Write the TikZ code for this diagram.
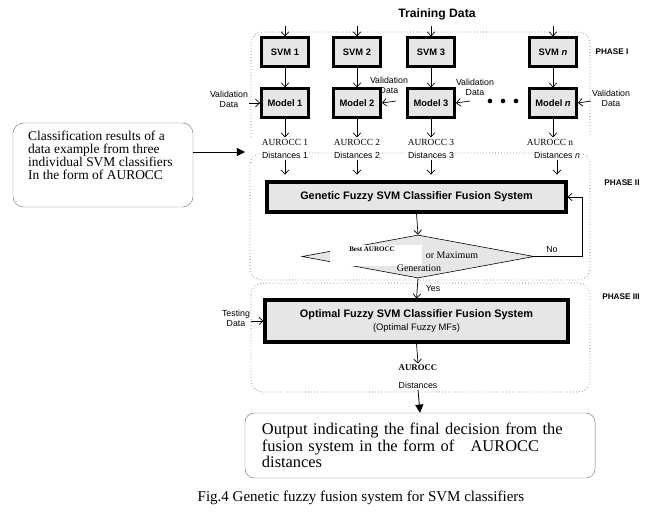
\documentclass[tikz,border=0pt]{standalone}
\usepackage{fontspec}
\setmainfont{Liberation Serif}
\setsansfont{Liberation Sans}
\usepackage{tikz}
\usetikzlibrary{shapes.geometric,arrows.meta}
\definecolor{boxgray}{RGB}{230,230,230}
\definecolor{framegray}{RGB}{120,120,120}

\tikzset{
    svmbox/.style={draw, line width=2.4pt, fill=boxgray, minimum width=1.41cm, minimum height=0.85cm,
        inner sep=1pt, font=\sffamily\bfseries\fontsize{8}{9}\selectfont},
    bigbox/.style={draw, line width=2.6pt, fill=boxgray, align=center,
        font=\sffamily\bfseries\fontsize{9.3}{10.5}\selectfont},
    decision/.style={diamond, draw, fill=boxgray, line width=0.5pt, inner sep=0pt,
        minimum width=6.96cm, minimum height=1.29cm},
    phase/.style={draw=framegray, dotted, line width=0.6pt, rounded corners=10pt},
    arr/.style={-{Straight Barb[length=3.5pt,width=6.5pt]}, line width=0.6pt},
    farr/.style={-{Triangle[length=7pt,width=7pt]}, line width=0.7pt},
    lbl/.style={font=\sffamily\fontsize{7.5}{8.5}\selectfont, align=center, inner sep=1pt},
    aurocc/.style={font=\fontsize{8}{9}\selectfont, inner sep=1pt, fill=white},
    phaselbl/.style={font=\sffamily\bfseries\fontsize{7}{8}\selectfont},
    dectext/.style={font=\fontsize{8.5}{9}\selectfont, inner sep=0.5pt}
}

\begin{document}
\begin{tikzpicture}[x=0.03cm, y=-0.03cm]
    \useasboundingbox (0,0) rectangle (650,529);

    % phase frames
    \draw[phase] (251,137) -- (251,32) -- (590,32) -- (590,137);
    \draw[phase] (250,153) rectangle (590,280);
    \draw[phase] (251,283) rectangle (590,392);
    \node[phaselbl] (ph1) at (612,52) {PHASE I};
    \node[phaselbl] (ph2) at (622,183) {PHASE II};
    \node[phaselbl] (ph3) at (621,297) {PHASE III};

    % phase I: svm columns
    \node[font=\sffamily\bfseries\fontsize{10.4}{12}\selectfont] (train) at (437,14) {Training Data};
    \foreach \i/\x/\lab in {1/285/1, 2/357/2, 3/431/3, n/553/\textit{n}} {
        \coordinate (in\i) at (\x,26);
        \node[svmbox] (svm\i) at (\x,52) {SVM \lab};
        \node[svmbox] (model\i) at (\x,103) {Model \lab};
        \draw[arr] (in\i) -- (svm\i);
        \draw[arr] (svm\i) -- (model\i);
    }

    % validation data
    \node[lbl] (val1) at (229,99) {Validation\\Data};
    \node[lbl] (val2) at (389,85) {Validation\\Data};
    \node[lbl] (val3) at (475,87) {Validation\\Data};
    \node[lbl] (valn) at (611,98) {Validation\\Data};
    \coordinate (v2) at (396,101);
    \coordinate (v3) at (470,101);
    \coordinate (vn) at (591,101);
    \draw[arr] (val1.east |- model1.west) -- (model1.west);
    \draw[arr] (v2) -- (model2.east);
    \draw[arr] (v3) -- (model3.east);
    \draw[arr] (vn) -- (modeln.east);
    \foreach \x in {490,503,516} \fill (\x,101) circle (2pt);

    % phase II
    \node[bigbox, minimum width=8.97cm, minimum height=0.9cm] (gen) at (416.5,197)
        {Genetic Fuzzy SVM Classifier Fusion System};
    \foreach \i/\x/\dx/\lab/\dlab in {1/285/285/1/1, 2/357/357/2/2, 3/431/431/3/3, n/550/557/n/\textit{n}} {
        \node[aurocc] (au\i) at (\x,142) {AUROCC \lab};
        \node[lbl, fill=white] (dist\i) at (\dx,155) {Distances \dlab};
        \draw[arr] (model\i.south) -- (model\i.south |- au\i.north);
        \draw[arr, shorten >=5pt] (dist\i.south) -- (dist\i.south |- gen.north);
    }

    \node[decision] (dec) at (418,256.5) {};
    \fill[white] (330,245) rectangle (422,266);
    \node[dectext, font=\bfseries\fontsize{6}{7}\selectfont] (best) at (372,249) {Best AUROCC};
    \node[dectext] (ormax) at (452,255) {or Maximum};
    \node[dectext] (gener) at (419,268) {Generation};
    \draw[arr] (gen.south) -- (dec.north);

    \coordinate (noturn) at (582,256.5);
    \draw[arr] (dec.east) -- (noturn) |- (gen.east);
    \node[lbl] (no) at (552,250) {No};

    % phase III
    \node[bigbox, minimum width=9.09cm, minimum height=1.26cm] (opt) at (416.5,321)
        {Optimal Fuzzy SVM Classifier Fusion System\\{\mdseries\fontsize{8}{9}\selectfont(Optimal Fuzzy MFs)}};
    \draw[arr] (dec.south) -- (opt.north);
    \node[lbl] (yes) at (433,289) {Yes};

    \node[lbl] (test) at (236,318) {Testing\\Data};
    \draw[arr] (test.east |- opt.west) -- (opt.west);

    \node[aurocc, font=\bfseries\fontsize{7.5}{9}\selectfont] (auout) at (418,368) {AUROCC};
    \node[lbl] (distout) at (418,385) {Distances};
    \draw[arr] (opt.south) -- (auout.north);

    % input and output boxes
    \node[draw=framegray, rounded corners=9pt, minimum width=5.4cm, minimum height=2.52cm] (clsbox) at (103,165) {};
    \node[anchor=north west, align=left, inner sep=0pt, font=\fontsize{11.5}{10.9}\selectfont] (clstext) at (28,131)
        {Classification results of a\\data example from three\\individual SVM classifiers\\In the form of AUROCC};
    \coordinate (clsin) at (245,152);
    \draw[farr] (clsbox.east |- clsin) -- (clsin);

    \node[draw=framegray, rounded corners=8pt, minimum width=10.5cm, minimum height=1.95cm,
        text width=9.48cm, align=left, font=\fontsize{14}{14.1}\selectfont] (outbox) at (420,445.5)
        {Output indicating the final decision from the\\fusion system in the form of \ \ AUROCC\\distances};
    \draw[farr] (distout.south) -- (outbox.north);

    \node[font=\fontsize{12.8}{14}\selectfont] (caption) at (361,498)
        {Fig.4 Genetic fuzzy fusion system for SVM classifiers};
\end{tikzpicture}
\end{document}
